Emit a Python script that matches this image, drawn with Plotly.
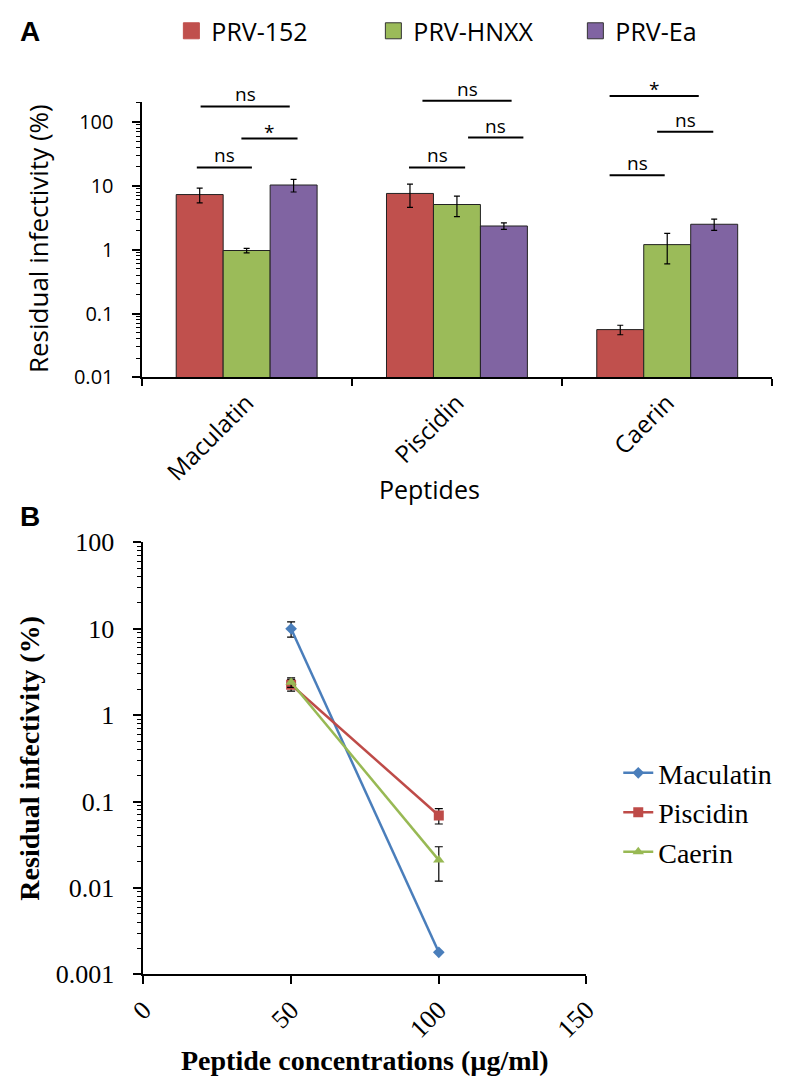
import numpy as np
import plotly.graph_objects as go

# ---------------- Panel A data ----------------
peptides = ["Maculatin", "Piscidin", "Caerin"]
prv152 = [7.3, 7.6, 0.056]
prv152_err = [1.9, 3.0, 0.0095]
prv_hnxx = [0.97, 5.1, 1.2]
prv_hnxx_err = [0.08, 1.8, 0.6]
prv_ea = [10.3, 2.35, 2.5]
prv_ea_err = [2.3, 0.27, 0.5]

a_tickvals = [0.01, 0.1, 1, 10, 100]
a_ticktext = ["0.01", "0.1", "1", "10", "100"]

# significance brackets (category index, offsets, height in data units, label)
brk_cat = [0, 0, 0, 1, 1, 1, 2, 2, 2]
brk_x0 = [-0.219, -0.025, -0.237, -0.164, 0.053, -0.228, -0.274, -0.048, -0.274]
brk_x1 = [0.205, 0.242, 0.025, 0.260, 0.316, 0.039, 0.150, 0.219, -0.012]
brk_y = [175, 55, 19.4, 215, 57, 19.4, 256, 70.5, 14.7]
brk_lbl = ["ns", "*", "ns", "ns", "ns", "ns", "*", "ns", "ns"]

# ---------------- Panel B data ----------------
conc = [50, 100]
maculatin = [10.0, 0.0018]
maculatin_err = [2.0, None]
piscidin = [2.25, 0.069]
piscidin_err = [0.35, 0.014]
caerin = [2.4, 0.021]
caerin_err = [0.3, 0.009]

b_tickvals = [0.001, 0.01, 0.1, 1, 10, 100]
b_ticktext = ["0.001", "0.01", "0.1", "1", "10", "100"]
b_xticks = [0, 50, 100, 150]

# ---------------- layout geometry (screen px -> paper) ----------------
W, H = 787, 1092
OFF = 8  # page body margin


def px(x):
    return (x - OFF) / W


def py(y):
    return 1 - (y - OFF) / H


A_X = [px(130), px(785)]
A_Y = [py(371), py(87)]
A_RANGE = [-2, 2.318]
B_X = [px(132), px(592)]
B_Y = [py(986), py(541)]

SANS = "Open Sans"
SERIF = "Liberation Serif, Times New Roman, serif"

RED, GREEN, PURPLE, BLUE = "#C0504D", "#9BBB59", "#8064A2", "#4A7EBB"

fig = go.Figure()

for name, vals, errs, col in [("PRV-152", prv152, prv152_err, RED),
                              ("PRV-HNXX", prv_hnxx, prv_hnxx_err, GREEN),
                              ("PRV-Ea", prv_ea, prv_ea_err, PURPLE)]:
    fig.add_trace(go.Bar(
        x=peptides, y=vals, name=name, xaxis="x", yaxis="y", showlegend=False,
        legendgroup=name,
        marker=dict(color=col, line=dict(color="#222222", width=1)),
        error_y=dict(type="data", array=errs, color="black", thickness=1.2, width=3),
    ))
    # legend entry with a larger square swatch
    fig.add_trace(go.Scatter(
        x=[None], y=[None], name=name, xaxis="x", yaxis="y", legend="legend",
        legendgroup=name, mode="markers",
        marker=dict(symbol="square", size=17, color=col,
                    line=dict(color="#333333" if col != RED else col, width=1)),
    ))

for name, vals, errs, col, sym, ms in [("Maculatin", maculatin, maculatin_err, BLUE, "diamond", 9),
                                       ("Piscidin", piscidin, piscidin_err, "#BE4B48", "square", 10),
                                       ("Caerin", caerin, caerin_err, "#98B954", "triangle-up", 10)]:
    fig.add_trace(go.Scatter(
        x=conc, y=vals, name=name, xaxis="x2", yaxis="y2", legend="legend2",
        mode="lines+markers", line=dict(color=col, width=2.5),
        marker=dict(symbol=sym, size=ms, color=col),
        error_y=dict(type="data", array=errs, color="black", thickness=1.2, width=4),
    ))


def a_paper_y(v):
    frac = (np.log10(v) - A_RANGE[0]) / (A_RANGE[1] - A_RANGE[0])
    return A_Y[0] + frac * (A_Y[1] - A_Y[0])


shapes = []
annotations = []
for c, x0, x1, yv, lbl in zip(brk_cat, brk_x0, brk_x1, brk_y, brk_lbl):
    yp = a_paper_y(yv)
    shapes.append(dict(type="line", xref="x", yref="paper", x0=c + x0, x1=c + x1,
                       y0=yp, y1=yp, line=dict(color="black", width=2)))
    annotations.append(dict(xref="x", yref="paper", x=c + (x0 + x1) / 2, y=yp,
                            xanchor="center", yanchor="bottom", text=lbl, showarrow=False,
                            yshift=-3 if lbl == "ns" else -8,
                            font=dict(family=SANS, size=19, color="black")))

# panel letters and titles
annotations += [
    dict(xref="paper", yref="paper", x=px(2), y=py(15), xanchor="left", yanchor="middle",
         text="<b>A</b>", showarrow=False, font=dict(family="Liberation Sans, Arial", size=28, color="black")),
    dict(xref="paper", yref="paper", x=px(2), y=py(514), xanchor="left", yanchor="middle",
         text="<b>B</b>", showarrow=False, font=dict(family="Liberation Sans, Arial", size=28, color="black")),
    dict(xref="paper", yref="paper", x=px(22), y=py(228), xanchor="center", yanchor="middle",
         textangle=-90, text="Residual infectivity (%)", showarrow=False,
         font=dict(family=SANS, size=26, color="black")),
    dict(xref="paper", yref="paper", x=px(429), y=py(486), xanchor="center", yanchor="middle",
         text="Peptides", showarrow=False, font=dict(family=SANS, size=25, color="black")),
    dict(xref="paper", yref="paper", x=px(14), y=py(763), xanchor="center", yanchor="middle",
         textangle=-90, text="<b>Residual infectivity (%)</b>", showarrow=False,
         font=dict(family=SERIF, size=28, color="black")),
    dict(xref="paper", yref="paper", x=px(362), y=py(1075), xanchor="center", yanchor="middle",
         text="<b>Peptide concentrations (µg/ml)</b>", showarrow=False,
         font=dict(family=SERIF, size=28, color="black")),
]

axis_common = dict(showline=True, linecolor="black", linewidth=2, showgrid=False,
                   zeroline=False, ticks="outside", tickcolor="black", tickwidth=1.5)

fig.update_layout(
    width=W, height=H, margin=dict(l=0, r=0, t=0, b=0),
    paper_bgcolor="white", plot_bgcolor="white",
    barmode="group", bargap=0.33, bargroupgap=0,
    shapes=shapes, annotations=annotations,
    xaxis=dict(domain=A_X, anchor="y", type="category", tickson="boundaries", ticklen=7,
               tickangle=-45, tickfont=dict(family=SANS, size=24, color="black"),
               **axis_common),
    yaxis=dict(domain=A_Y, anchor="x", type="log", range=A_RANGE,
               tickvals=a_tickvals, ticktext=a_ticktext, ticklen=8, ticklabelstandoff=14,
               tickfont=dict(family=SANS, size=20, color="black"),
               minor=dict(ticks="outside", ticklen=4, dtick="D1", tickcolor="black", tickwidth=1),
               **axis_common),
    xaxis2=dict(domain=B_X, anchor="y2", range=[0, 150], tickvals=b_xticks,
                ticktext=[str(v) for v in b_xticks], ticklen=8, tickangle=-45,
                tickfont=dict(family=SERIF, size=26, color="black"), **axis_common),
    yaxis2=dict(domain=B_Y, anchor="x2", type="log", range=[-3, 2],
                tickvals=b_tickvals, ticktext=b_ticktext, ticklen=8, ticklabelstandoff=14,
                tickfont=dict(family=SERIF, size=26, color="black"),
                minor=dict(ticks="outside", ticklen=4, dtick="D1", tickcolor="black", tickwidth=1),
                **axis_common),
    legend=dict(orientation="h", x=px(153 + OFF), y=1.016, xanchor="left", yanchor="top",
                font=dict(family=SANS, size=25, color="black"), itemsizing="trace",
                entrywidth=157, entrywidthmode="pixels", bgcolor="rgba(0,0,0,0)"),
    legend2=dict(orientation="v", x=px(617 + OFF), y=py(745 + OFF), xanchor="left", yanchor="top",
                 font=dict(family=SERIF, size=28, color="black"), bgcolor="rgba(0,0,0,0)"),
)

fig.write_html("out.html")
